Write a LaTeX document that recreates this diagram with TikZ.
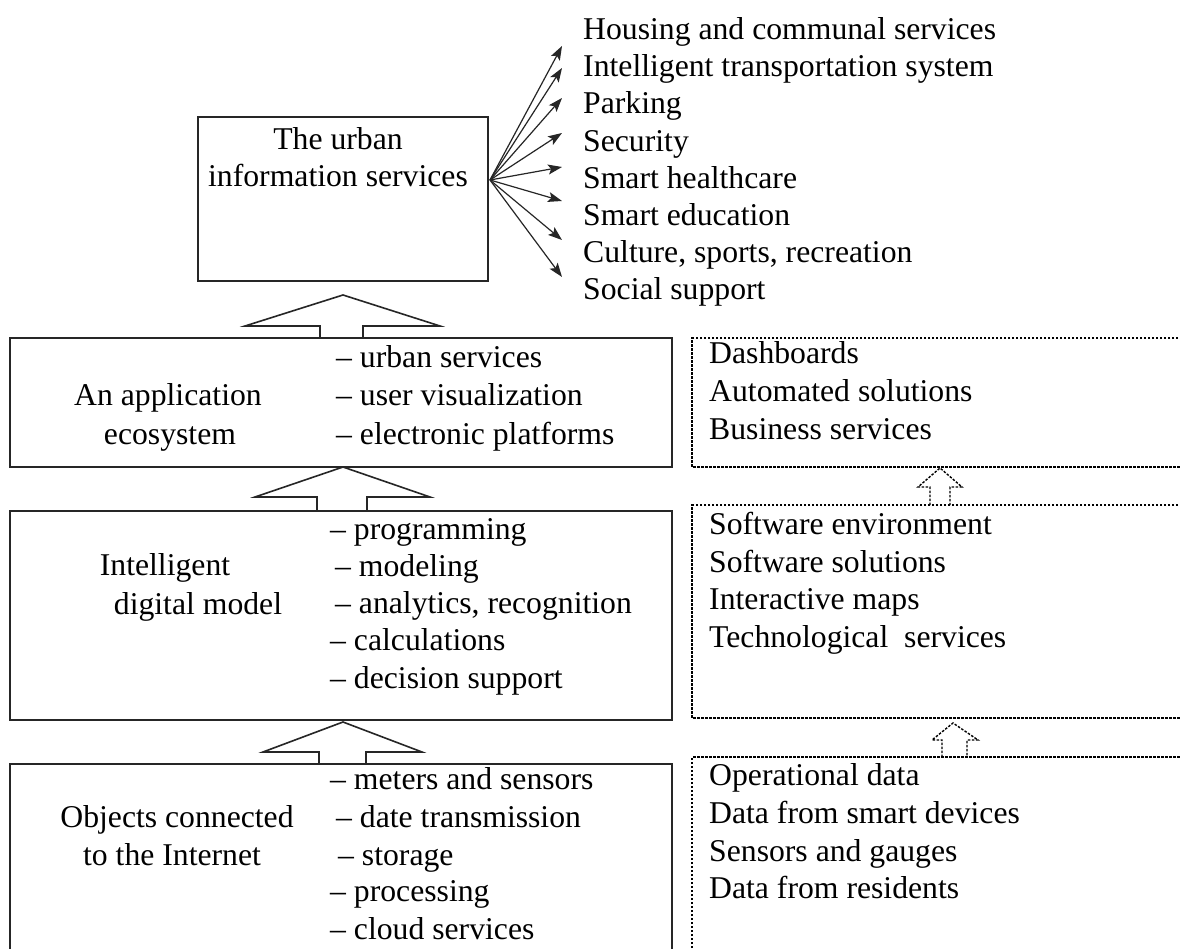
\documentclass[tikz,border=0pt]{standalone}
\usepackage{fontspec}
\setmainfont{Liberation Serif}
\usetikzlibrary{arrows.meta}
\begin{document}
\begin{tikzpicture}[x=1pt,y=-1pt,
  txt/.style={font=\fontsize{31.7}{37}\selectfont, inner sep=0pt, anchor=base west, text=black},
  ctxt/.style={font=\fontsize{31.7}{37}\selectfont, inner sep=0pt, anchor=base, text=black},
  solidbox/.style={draw=black!85, line width=1.6pt},
  dashbox/.style={draw=black, line width=1.4pt, dash pattern=on 2.5pt off 1.5pt},
  fan/.style={draw=black!85, line width=1.2pt, -{Stealth[length=14pt,width=10pt,inset=3pt]}},
  blockarrow/.style={draw=black!85, line width=1.6pt, fill=white, line join=miter},
  smallarrow/.style={draw=black, line width=1.4pt, dash pattern=on 2.5pt off 1.5pt, fill=white}]
\useasboundingbox (0,0) rectangle (1180,949);
\fill[white] (0,0) rectangle (1180,949);

% top box
\draw[solidbox] (198,117) rectangle (488,281);
\node[ctxt] (t1) at (338,150) {The urban};
\node[ctxt] (t2) at (338,187) {information services};

% fan items
\node[txt] (s1) at (583,40) {Housing and communal services};
\node[txt] (s2) at (583,77) {Intelligent transportation system};
\node[txt] (s3) at (583,114) {Parking};
\node[txt] (s4) at (583,152) {Security};
\node[txt] (s5) at (583,189) {Smart healthcare};
\node[txt] (s6) at (583,226) {Smart education};
\node[txt] (s7) at (583,263) {Culture, sports, recreation};
\node[txt] (s8) at (583,300) {Social support};
\coordinate (hub) at (490,180);
\coordinate (e1) at (562,46);
\coordinate (e2) at (562,68);
\coordinate (e3) at (562,98);
\coordinate (e4) at (562,133);
\coordinate (e5) at (562,167);
\coordinate (e6) at (562,201);
\coordinate (e7) at (562,240);
\coordinate (e8) at (562,277);
\foreach \i in {1,...,8} \draw[fan] (hub) -- (e\i);

% block arrow 1
\draw[blockarrow] (320,338) -- (320,326) -- (245,326) -- (343,295) -- (440,326) -- (363,326) -- (363,338);

% application box
\draw[solidbox] (10,338) rectangle (672,467);
\node[ctxt] (a1) at (168,405) {An application};
\node[ctxt] (a2) at (170,444) {ecosystem};
\node[txt] (a3) at (336,367) {– urban services};
\node[txt] (a4) at (336,405) {– user visualization};
\node[txt] (a5) at (336,444) {– electronic platforms};

% block arrow 2
\draw[blockarrow] (317,511) -- (317,497) -- (255,497) -- (343,467) -- (430,497) -- (367,497) -- (367,511);

% digital model box
\draw[solidbox] (10,511) rectangle (672,720);
\node[ctxt] (d1) at (165,575) {Intelligent};
\node[ctxt] (d2) at (198,614) {digital model};
\node[txt] (d3) at (330,539) {– programming};
\node[txt] (d4) at (335,576) {– modeling};
\node[txt] (d5) at (335,613) {– analytics, recognition};
\node[txt] (d6) at (330,650) {– calculations};
\node[txt] (d7) at (330,688) {– decision support};

% block arrow 3
\draw[blockarrow] (319,764) -- (319,752) -- (263,752) -- (343,722) -- (422,752) -- (366,752) -- (366,764);

% objects box
\draw[solidbox] (10,960) -- (10,764) -- (672,764) -- (672,960);
\node[ctxt] (o1) at (177,827) {Objects connected};
\node[ctxt] (o2) at (172,865) {to the Internet};
\node[txt] (o3) at (330,789) {– meters and sensors};
\node[txt] (o4) at (336,827) {– date transmission};
\node[txt] (o5) at (338,865) {– storage};
\node[txt] (o6) at (330,901) {– processing};
\node[txt] (o7) at (330,939) {– cloud services};

% right dashed boxes
\draw[dashbox] (1190,338) -- (692,338) -- (692,467) -- (1190,467);
\node[txt] (r1) at (709,363) {Dashboards};
\node[txt] (r2) at (709,401) {Automated solutions};
\node[txt] (r3) at (709,439) {Business services};

\draw[smallarrow] (930,505) -- (930,487) -- (918,487) -- (940,468) -- (962,487) -- (950,487) -- (950,505);

\draw[dashbox] (1190,505) -- (692,505) -- (692,718) -- (1190,718);
\node[txt] (r4) at (709,534) {Software environment};
\node[txt] (r5) at (709,572) {Software solutions};
\node[txt] (r6) at (709,609) {Interactive maps};
\node[txt] (r7) at (709,647) {Technological\ \ services};

\draw[smallarrow] (942,757) -- (942,740) -- (932,740) -- (953,723) -- (978,740) -- (967,740) -- (967,757);

\draw[dashbox] (692,960) -- (692,757) -- (1190,757);
\node[txt] (r8) at (709,785) {Operational data};
\node[txt] (r9) at (709,823) {Data from smart devices};
\node[txt] (r10) at (709,861) {Sensors and gauges};
\node[txt] (r11) at (709,898) {Data from residents};
\end{tikzpicture}
\end{document}
